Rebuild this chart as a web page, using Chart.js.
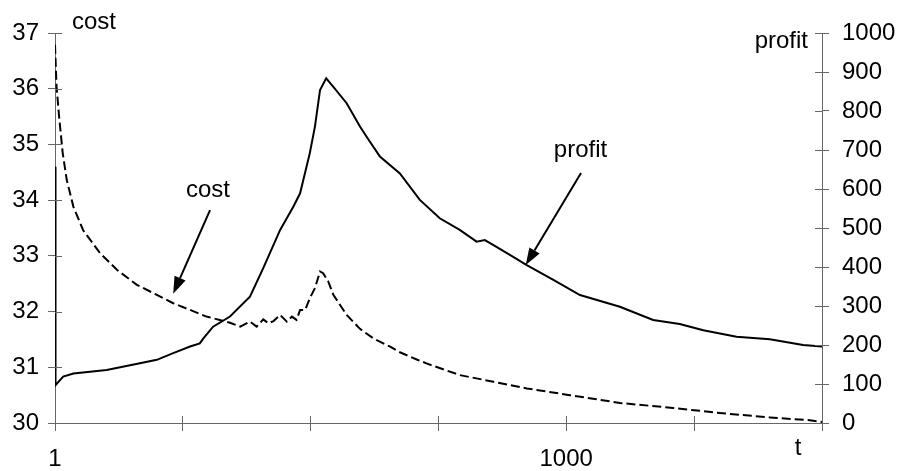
<!DOCTYPE html>
<html>
<head>
<meta charset="utf-8">
<script src="https://cdn.jsdelivr.net/npm/chart.js@4.4.0/dist/chart.umd.min.js"></script>
<style>
html, body { margin: 0; padding: 0; background: #fff; }
#wrap { width: 900px; height: 471px; }
</style>
</head>
<body>
<div id="wrap"><canvas id="chart_cost"></canvas></div>
<script>
// cost (left axis), dashed
var cost_t = [1, 4, 9, 16, 24, 37, 56, 89, 122, 161, 200, 232, 265, 297, 323, 343, 363, 382, 395, 408, 418, 428, 441, 454, 464, 473, 480, 490, 499, 509, 519, 525, 535, 545, 571, 597, 623, 656, 675, 708, 727, 792, 858, 923, 1007, 1105, 1209, 1300, 1398, 1476, 1500]
var cost_v = [36.79, 36.04, 35.50, 34.85, 34.36, 33.88, 33.46, 33.05, 32.75, 32.48, 32.30, 32.15, 32.03, 31.91, 31.85, 31.80, 31.73, 31.82, 31.73, 31.86, 31.79, 31.83, 31.94, 31.82, 31.91, 31.85, 32.03, 32.03, 32.24, 32.42, 32.72, 32.69, 32.54, 32.30, 31.94, 31.69, 31.52, 31.37, 31.27, 31.14, 31.07, 30.86, 30.74, 30.62, 30.50, 30.36, 30.27, 30.18, 30.10, 30.05, 30.02]

// profit (right axis), solid
var profit_t = [1, 2, 17, 37, 102, 167, 200, 232, 265, 284, 291, 310, 343, 382, 408, 441, 467, 480, 499, 509, 519, 531, 545, 571, 597, 610, 636, 675, 714, 753, 792, 825, 841, 858, 890, 923, 975, 1027, 1105, 1170, 1222, 1268, 1333, 1398, 1463, 1500]
var profit_v = [657, 97, 119, 127, 136, 153, 162, 179, 196, 204, 217, 247, 273, 324, 397, 495, 555, 589, 692, 760, 854, 884, 862, 820, 760, 734, 683, 640, 572, 525, 495, 465, 469, 456, 431, 405, 367, 328, 298, 264, 254, 238, 221, 215, 200, 196]

var x_ticks = [1, 250, 500, 750, 1000, 1250, 1500]
var x_labels = ['1', '1000']

var axis_color = '#666666'
var font_family = "'Liberation Sans', Arial, sans-serif"
var font_size = 24

function to_points(xs, ys) {
    return xs.map((x, i) => {
        return { x: x, y: ys[i] }
    })
}

function draw_arrow(ctx, x0, y0, x1, y1) {
    var ang = Math.atan2(y1 - y0, x1 - x0)
    var head = 17
    var half = 6
    var bx = x1 - head * Math.cos(ang)
    var by = y1 - head * Math.sin(ang)
    ctx.beginPath()
    ctx.moveTo(x0, y0)
    ctx.lineTo(bx, by)
    ctx.stroke()
    ctx.beginPath()
    ctx.moveTo(x1, y1)
    ctx.lineTo(bx + half * Math.sin(ang), by - half * Math.cos(ang))
    ctx.lineTo(bx - half * Math.sin(ang), by + half * Math.cos(ang))
    ctx.closePath()
    ctx.fill()
}

// ticks crossing the axes + text notes
var extras = {
    id: 'extras',
    afterDraw: function (chart) {
        var ctx = chart.ctx
        var area = chart.chartArea
        var sx = chart.scales.x
        var sc = chart.scales.cost
        var sp = chart.scales.profit
        ctx.save()
        ctx.strokeStyle = axis_color
        ctx.lineWidth = 1
        ctx.beginPath()
        sx.ticks.forEach(function (tick, i) {
            var px = Math.round(sx.getPixelForTick(i)) + 0.5
            ctx.moveTo(px, area.bottom)
            ctx.lineTo(px, area.bottom - 7)
        })
        sc.ticks.forEach(function (tick, i) {
            var py = Math.round(sc.getPixelForTick(i)) + 0.5
            ctx.moveTo(area.left, py)
            ctx.lineTo(area.left + 7, py)
        })
        sp.ticks.forEach(function (tick, i) {
            var py = Math.round(sp.getPixelForTick(i)) + 0.5
            ctx.moveTo(area.right, py)
            ctx.lineTo(area.right - 7, py)
        })
        ctx.stroke()

        ctx.fillStyle = '#000'
        ctx.font = font_size + 'px ' + font_family
        ctx.textBaseline = 'alphabetic'
        ctx.textAlign = 'left'
        ctx.fillText('cost', area.left + 17, 29)
        ctx.textAlign = 'right'
        ctx.fillText('profit', area.right - 14, 48)
        ctx.textAlign = 'center'
        ctx.fillText('t', area.right - 24, 455)

        // notes with arrows
        ctx.strokeStyle = '#000'
        ctx.lineWidth = 2
        ctx.fillText('cost', sx.getPixelForValue(300), 197)
        draw_arrow(ctx, sx.getPixelForValue(304), sc.getPixelForValue(33.82),
            sx.getPixelForValue(232), sc.getPixelForValue(32.32))
        ctx.fillText('profit', sx.getPixelForValue(1028), 157)
        draw_arrow(ctx, sx.getPixelForValue(1029), sp.getPixelForValue(641),
            sx.getPixelForValue(921), sp.getPixelForValue(405))
        ctx.restore()
    }
}

var chart_main = new Chart(document.getElementById('chart_cost'), {
    type: 'line',
    data: {
        datasets: [
            {
                label: 'cost',
                yAxisID: 'cost',
                data: to_points(cost_t, cost_v),
                borderColor: '#000',
                borderWidth: 2,
                borderDash: [9, 4],
                pointRadius: 0,
                tension: 0,
                fill: false
            },
            {
                label: 'profit',
                yAxisID: 'profit',
                data: to_points(profit_t, profit_v),
                borderColor: '#000',
                borderWidth: 2,
                pointRadius: 0,
                tension: 0,
                fill: false
            }
        ]
    },
    options: {
        responsive: true,
        maintainAspectRatio: false,
        animation: false,
        layout: {
            padding: { top: 33, left: 0, right: 0, bottom: 0 }
        },
        scales: {
            x: {
                type: 'linear',
                min: 1,
                max: 1500,
                afterBuildTicks: function (scale) {
                    scale.ticks = x_ticks.map((v) => {
                        return { value: v }
                    })
                },
                afterFit: function (scale) {
                    scale.height = 48
                },
                border: { display: true, color: axis_color, width: 1 },
                grid: { drawOnChartArea: false, drawTicks: true, tickLength: 8, color: axis_color },
                ticks: {
                    autoSkip: false,
                    maxRotation: 0,
                    padding: 14,
                    color: '#000',
                    font: { family: font_family, size: font_size },
                    callback: function (value) {
                        return x_labels.indexOf(String(value)) >= 0 ? String(value) : ''
                    }
                }
            },
            cost: {
                type: 'linear',
                position: 'left',
                min: 30,
                max: 37,
                afterFit: function (scale) {
                    scale.width = 55
                },
                border: { display: true, color: axis_color, width: 1 },
                grid: { drawOnChartArea: false, drawTicks: true, tickLength: 7, color: axis_color },
                ticks: {
                    stepSize: 1,
                    padding: 9,
                    color: '#000',
                    font: { family: font_family, size: font_size },
                    callback: function (value) {
                        return String(value)
                    }
                }
            },
            profit: {
                type: 'linear',
                position: 'right',
                min: 0,
                max: 1000,
                afterFit: function (scale) {
                    scale.width = 78
                },
                border: { display: true, color: axis_color, width: 1 },
                grid: { drawOnChartArea: false, drawTicks: true, tickLength: 7, color: axis_color },
                ticks: {
                    stepSize: 100,
                    padding: 13,
                    color: '#000',
                    font: { family: font_family, size: font_size },
                    callback: function (value) {
                        return String(value)
                    }
                }
            }
        },
        plugins: {
            legend: { display: false },
            tooltip: { enabled: false },
            title: { display: false }
        }
    },
    plugins: [extras]
})
</script>
</body>
</html>
